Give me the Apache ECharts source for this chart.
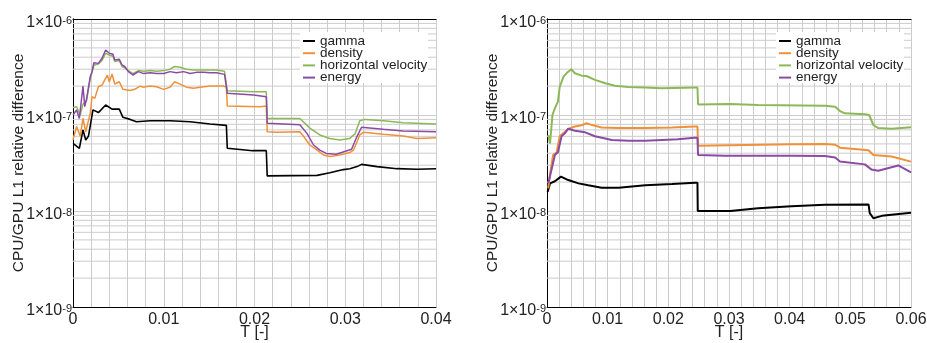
<!DOCTYPE html>
<html>
<head>
<meta charset="utf-8">
<script src="https://cdn.jsdelivr.net/npm/echarts@6/dist/echarts.min.js"></script>
<style>
  html, body {margin: 0; padding: 0; background: #fff;}
  #chart {width: 927px; height: 343px;}
</style>
</head>
<body>
<div id="chart"></div>
<script>
// series names, same in both panels
const names = ['gamma', 'density', 'horizontal velocity', 'energy'];
const colors = ['#000000', '#F0913A', '#8DB858', '#8A4BA5'];

// y tick labels (exponents of the decades) and log minor grid positions
const yExp = {'1e-9': '-9', '1e-8': '-8', '1e-7': '-7', '1e-6': '-6'};
const yMinor = [2e-9, 3e-9, 4e-9, 5e-9, 6e-9, 7e-9, 8e-9, 9e-9,
  2e-8, 3e-8, 4e-8, 5e-8, 6e-8, 7e-8, 8e-8, 9e-8,
  2e-7, 3e-7, 4e-7, 5e-7, 6e-7, 7e-7, 8e-7, 9e-7];

// ---- left panel, T in [0, 0.04]
const gammaL = [[0, 5.07e-8], [0.0007, 4.5e-8], [0.0011, 7.0e-8], [0.0014, 5.5e-8], [0.0017, 6.0e-8],
  [0.0022, 1.13e-7], [0.0028, 1.06e-7], [0.0036, 1.27e-7], [0.0043, 1.15e-7], [0.0051, 1.15e-7],
  [0.0055, 9.46e-8], [0.0063, 9.0e-8], [0.0070, 8.5e-8], [0.0085, 8.7e-8], [0.0107, 8.7e-8],
  [0.0129, 8.5e-8], [0.0151, 8.05e-8], [0.0169, 7.8e-8], [0.0170, 4.5e-8], [0.0198, 4.25e-8],
  [0.0213, 4.25e-8], [0.0214, 2.32e-8], [0.0269, 2.35e-8], [0.0283, 2.5e-8], [0.0298, 2.7e-8],
  [0.0305, 2.75e-8], [0.0313, 2.9e-8], [0.0318, 3.06e-8], [0.0335, 2.9e-8], [0.0357, 2.76e-8],
  [0.0379, 2.72e-8], [0.0400, 2.75e-8]];
const densityL = [[0, 5.5e-8], [0.0004, 7.6e-8], [0.0008, 6.0e-8], [0.0011, 9.2e-8], [0.0014, 6.7e-8],
  [0.0019, 1.04e-7], [0.0021, 1.55e-7], [0.0024, 1.49e-7], [0.0028, 1.97e-7], [0.0032, 2.05e-7],
  [0.0035, 2.32e-7], [0.0038, 2.6e-7], [0.0040, 2.2e-7], [0.0043, 2.67e-7], [0.0046, 2.1e-7],
  [0.0051, 2.22e-7], [0.0055, 1.85e-7], [0.0063, 1.8e-7], [0.0068, 1.85e-7], [0.0074, 2.0e-7],
  [0.0077, 1.95e-7], [0.0085, 2.0e-7], [0.0092, 1.97e-7], [0.0100, 1.85e-7], [0.0107, 1.95e-7],
  [0.0112, 2.22e-7], [0.0118, 2.1e-7], [0.0125, 1.95e-7], [0.0133, 1.9e-7], [0.0140, 1.95e-7],
  [0.0151, 2.0e-7], [0.0166, 2.0e-7], [0.0169, 1.95e-7], [0.0170, 1.24e-7], [0.0206, 1.22e-7],
  [0.0213, 1.24e-7], [0.0214, 6.7e-8], [0.0224, 6.6e-8], [0.0250, 6.7e-8], [0.0254, 6.0e-8],
  [0.0261, 4.87e-8], [0.0269, 4.3e-8], [0.0276, 3.83e-8], [0.0283, 3.7e-8], [0.0294, 3.83e-8],
  [0.0305, 4.06e-8], [0.0309, 4.3e-8], [0.0313, 5.27e-8], [0.0316, 6.2e-8], [0.0320, 6.6e-8],
  [0.0342, 6.3e-8], [0.0364, 6.05e-8], [0.0379, 5.7e-8], [0.0400, 5.8e-8]];
const velocityL = [[0, 1.2e-7], [0.0004, 1.22e-7], [0.0008, 1.0e-7], [0.0011, 1.3e-7], [0.0015, 1.4e-7],
  [0.0019, 2.4e-7], [0.0023, 3.3e-7], [0.0028, 3.4e-7], [0.0032, 3.7e-7], [0.0036, 4.4e-7],
  [0.0040, 4.2e-7], [0.0044, 4.1e-7], [0.0046, 3.6e-7], [0.0051, 3.7e-7], [0.0054, 3.2e-7],
  [0.0057, 3.1e-7], [0.0061, 2.9e-7], [0.0066, 2.7e-7], [0.0072, 2.9e-7], [0.0078, 2.85e-7],
  [0.0085, 2.9e-7], [0.0092, 2.85e-7], [0.0100, 2.9e-7], [0.0107, 3.0e-7], [0.0112, 3.2e-7],
  [0.0118, 3.15e-7], [0.0125, 3.0e-7], [0.0133, 2.95e-7], [0.0144, 2.95e-7], [0.0151, 2.95e-7],
  [0.0158, 2.95e-7], [0.0167, 2.85e-7], [0.0170, 1.79e-7], [0.0199, 1.75e-7], [0.0213, 1.75e-7],
  [0.0214, 9.2e-8], [0.0250, 9.2e-8], [0.0261, 7.3e-8], [0.0272, 6.2e-8], [0.0283, 5.7e-8],
  [0.0294, 5.5e-8], [0.0305, 5.7e-8], [0.0311, 6.4e-8], [0.0316, 8.7e-8], [0.0322, 9.0e-8],
  [0.0342, 8.7e-8], [0.0364, 8.3e-8], [0.0400, 8.05e-8]];
const energyL = [[0, 1.0e-7], [0.0004, 1.13e-7], [0.0007, 9.2e-8], [0.0011, 2.0e-7], [0.0013, 1.22e-7],
  [0.0015, 1.49e-7], [0.0019, 2.5e-7], [0.0021, 2.83e-7], [0.0023, 3.5e-7], [0.0028, 3.45e-7],
  [0.0032, 3.9e-7], [0.0036, 4.75e-7], [0.0040, 4.4e-7], [0.0044, 4.3e-7], [0.0046, 3.74e-7],
  [0.0051, 3.8e-7], [0.0054, 3.32e-7], [0.0057, 3.2e-7], [0.0061, 2.83e-7], [0.0066, 2.61e-7],
  [0.0072, 2.83e-7], [0.0078, 2.7e-7], [0.0085, 2.75e-7], [0.0092, 2.7e-7], [0.0100, 2.7e-7],
  [0.0107, 2.83e-7], [0.0114, 2.75e-7], [0.0122, 2.83e-7], [0.0129, 2.7e-7], [0.0136, 2.78e-7],
  [0.0144, 2.78e-7], [0.0151, 2.75e-7], [0.0158, 2.75e-7], [0.0167, 2.65e-7], [0.0170, 1.68e-7],
  [0.0199, 1.62e-7], [0.0213, 1.55e-7], [0.0214, 8.2e-8], [0.0250, 7.9e-8], [0.0258, 6.4e-8],
  [0.0265, 4.87e-8], [0.0272, 4.3e-8], [0.0279, 3.98e-8], [0.0290, 3.9e-8], [0.0302, 4.25e-8],
  [0.0307, 4.4e-8], [0.0313, 6.0e-8], [0.0318, 7.45e-8], [0.0342, 7.1e-8], [0.0364, 6.8e-8],
  [0.0400, 6.7e-8]];

// ---- right panel, T in [0, 0.06]
const gammaR = [[0.0001, 1.58e-8], [0.0005, 1.94e-8], [0.0013, 2.04e-8], [0.0023, 2.28e-8], [0.0035, 2.1e-8],
  [0.0052, 1.94e-8], [0.0068, 1.85e-8], [0.0090, 1.75e-8], [0.0118, 1.75e-8], [0.0162, 1.85e-8],
  [0.0206, 1.91e-8], [0.0244, 1.97e-8], [0.0248, 1.97e-8], [0.02485, 1.0e-8], [0.0302, 1.0e-8],
  [0.0348, 1.07e-8], [0.0403, 1.12e-8], [0.0458, 1.16e-8], [0.0530, 1.17e-8], [0.0532, 9.5e-9],
  [0.0538, 8.4e-9], [0.0552, 8.9e-9], [0.0600, 9.6e-9]];
const densityR = [[0.0002, 1.72e-8], [0.0005, 2.4e-8], [0.0010, 3.83e-8], [0.0016, 4.1e-8], [0.0021, 6.0e-8],
  [0.0027, 6.5e-8], [0.0035, 7.15e-8], [0.0046, 7.6e-8], [0.0057, 7.8e-8], [0.0065, 8.2e-8],
  [0.0073, 7.9e-8], [0.0090, 7.4e-8], [0.0118, 7.3e-8], [0.0162, 7.3e-8], [0.0206, 7.4e-8],
  [0.0244, 7.6e-8], [0.0248, 7.6e-8], [0.0249, 4.79e-8], [0.0302, 4.85e-8], [0.0403, 4.95e-8],
  [0.0458, 5.0e-8], [0.0475, 4.9e-8], [0.0483, 4.57e-8], [0.0530, 4.3e-8], [0.0538, 3.83e-8],
  [0.0568, 3.7e-8], [0.0600, 3.27e-8]];
const velocityR = [[0.0002, 6.2e-8], [0.0005, 5.05e-8], [0.0009, 1.0e-7], [0.0013, 1.17e-7], [0.0018, 1.38e-7],
  [0.0021, 1.97e-7], [0.0027, 2.5e-7], [0.0032, 2.72e-7], [0.0040, 3.0e-7], [0.0046, 2.72e-7],
  [0.0057, 2.57e-7], [0.0065, 2.55e-7], [0.0079, 2.32e-7], [0.0096, 2.14e-7], [0.0112, 2.02e-7],
  [0.0134, 1.96e-7], [0.0162, 1.93e-7], [0.0189, 1.9e-7], [0.0244, 1.93e-7], [0.0248, 1.93e-7],
  [0.0249, 1.29e-7], [0.0302, 1.3e-7], [0.0348, 1.27e-7], [0.0458, 1.25e-7], [0.0475, 1.22e-7],
  [0.0483, 1.10e-7], [0.0491, 1.04e-7], [0.0524, 1.02e-7], [0.0531, 1.0e-7], [0.0538, 7.87e-8],
  [0.0546, 7.3e-8], [0.0568, 7.2e-8], [0.0600, 7.45e-8]];
const energyR = [[0.0002, 1.94e-8], [0.0008, 2.78e-8], [0.0013, 3.83e-8], [0.0018, 4.1e-8], [0.0024, 6.0e-8],
  [0.0030, 6.5e-8], [0.0035, 7.2e-8], [0.0046, 6.85e-8], [0.0063, 6.6e-8], [0.0079, 6.0e-8],
  [0.0107, 5.5e-8], [0.0134, 5.4e-8], [0.0162, 5.4e-8], [0.0189, 5.5e-8], [0.0216, 5.6e-8],
  [0.0243, 5.8e-8], [0.0248, 5.8e-8], [0.0249, 3.83e-8], [0.0293, 3.77e-8], [0.0348, 3.77e-8],
  [0.0403, 3.77e-8], [0.0458, 3.75e-8], [0.0475, 3.6e-8], [0.0483, 3.27e-8], [0.0524, 3.06e-8],
  [0.0535, 2.7e-8], [0.0546, 2.63e-8], [0.0579, 2.98e-8], [0.0600, 2.53e-8]];

const font = 'Liberation Sans';
const gridColor = '#cccccc';

const xAxisOf = (idx, max) => ({
  type: 'value', gridIndex: idx, min: 0, max: max, interval: 0.01,
  name: 'T [-]', nameLocation: 'middle', nameGap: 18, nameMoveOverlap: false,
  nameTextStyle: {fontFamily: font, fontSize: 16, color: '#222'},
  axisLine: {show: true, lineStyle: {color: '#000', width: 1}},
  axisTick: {show: false},
  axisLabel: {fontFamily: font, fontSize: 16, color: '#222', margin: 5,
    formatter: v => v === 0 ? '0' : v.toFixed(2)},
  splitLine: {show: true, lineStyle: {color: gridColor, width: 1}},
  minorTick: {show: false, splitNumber: 5},
  minorSplitLine: {show: true, lineStyle: {color: gridColor, width: 1}}
});

const yAxisOf = idx => ({
  type: 'log', gridIndex: idx, logBase: 10, min: 1e-9, max: 1e-6,
  name: 'CPU/GPU L1 relative difference', nameLocation: 'middle', nameGap: 46, nameMoveOverlap: false,
  nameTextStyle: {fontFamily: font, fontSize: 15.5, color: '#222'},
  axisLine: {show: true, lineStyle: {color: '#000', width: 1}},
  axisTick: {show: false},
  axisLabel: {
    margin: 1,
    padding: [8, 0, 0, 0],
    formatter: v => '{b|1×10}{s|' + yExp[Number(v).toExponential(0)] + '}',
    rich: {
      b: {fontFamily: font, fontSize: 16, color: '#222', lineHeight: 16},
      s: {fontFamily: font, fontSize: 11, color: '#222', verticalAlign: 'top', lineHeight: 11}
    }
  },
  splitLine: {show: true, lineStyle: {color: gridColor, width: 1}}
});

// exponent lookup by toExponential key
Object.keys(yExp).forEach(k => { yExp[Number(k).toExponential(0)] = yExp[k]; });

const lineSeries = (name, data, idx, width) => ({
  name: name, type: 'line', data: data,
  xAxisIndex: idx, yAxisIndex: idx,
  showSymbol: false, symbol: 'none',
  lineStyle: {width: width},
  color: colors[names.indexOf(name)],
  animation: false, z: 3
});

// log-axis minor grid lines (2..9 of each decade), one two-point line each, placed by the axes
const minorGrid = (idx, xMax) => yMinor.map(v => ({
  type: 'line', data: [[0, v], [xMax, v]], xAxisIndex: idx, yAxisIndex: idx,
  silent: true, z: 1, showSymbol: false, symbol: 'none',
  lineStyle: {color: gridColor, width: 1}, color: gridColor,
  animation: false, legendHoverLink: false
}));

const legendOf = (left) => ({
  orient: 'vertical', left: left, top: 32,
  data: names,
  padding: [2, 4, 3, 3], itemGap: -1.8,
  itemWidth: 12, itemHeight: 2, icon: 'rect',
  textStyle: {fontFamily: font, fontSize: 13.5, color: '#222'},
  selectedMode: false
});

// white boxes behind the legends
const legendBox = (x, w) => ({
  type: 'rect', left: x, top: 32, z: 3, silent: true,
  shape: {width: w, height: 51},
  style: {fill: '#fff'}
});

// frame: top and right edges of each plot
const frameX = (idx, max) => ({gridIndex: idx, position: 'top', type: 'value', min: 0, max: max,
  axisLine: {lineStyle: {color: '#000'}}, axisTick: {show: false}, axisLabel: {show: false}, splitLine: {show: false}});
const frameY = idx => ({gridIndex: idx, position: 'right', type: 'value',
  axisLine: {show: true, lineStyle: {color: '#000'}}, axisTick: {show: false}, axisLabel: {show: false}, splitLine: {show: false}});

const chart = echarts.init(document.getElementById('chart'));
chart.setOption({
  backgroundColor: '#fff',
  animation: false,
  grid: [
    {left: 73, right: 491, top: 19, bottom: 36, outerBoundsMode: 'none', containLabel: false},
    {left: 547, right: 16, top: 19, bottom: 36, outerBoundsMode: 'none', containLabel: false}
  ],
  xAxis: [xAxisOf(0, 0.04), xAxisOf(1, 0.06), frameX(0, 0.04), frameX(1, 0.06)],
  yAxis: [yAxisOf(0), yAxisOf(1), frameY(0), frameY(1)],
  legend: [legendOf(300), legendOf(776)],
  graphic: [legendBox(300, 128), legendBox(776, 128)],
  series: [
    ...minorGrid(0, 0.04), ...minorGrid(1, 0.06),
    lineSeries('gamma', gammaL, 0, 1.6),
    lineSeries('density', densityL, 0, 1.5),
    lineSeries('horizontal velocity', velocityL, 0, 1.5),
    lineSeries('energy', energyL, 0, 1.5),
    lineSeries('gamma', gammaR, 1, 2),
    lineSeries('density', densityR, 1, 2),
    lineSeries('horizontal velocity', velocityR, 1, 2),
    lineSeries('energy', energyR, 1, 2)
  ]
});
</script>
</body>
</html>
